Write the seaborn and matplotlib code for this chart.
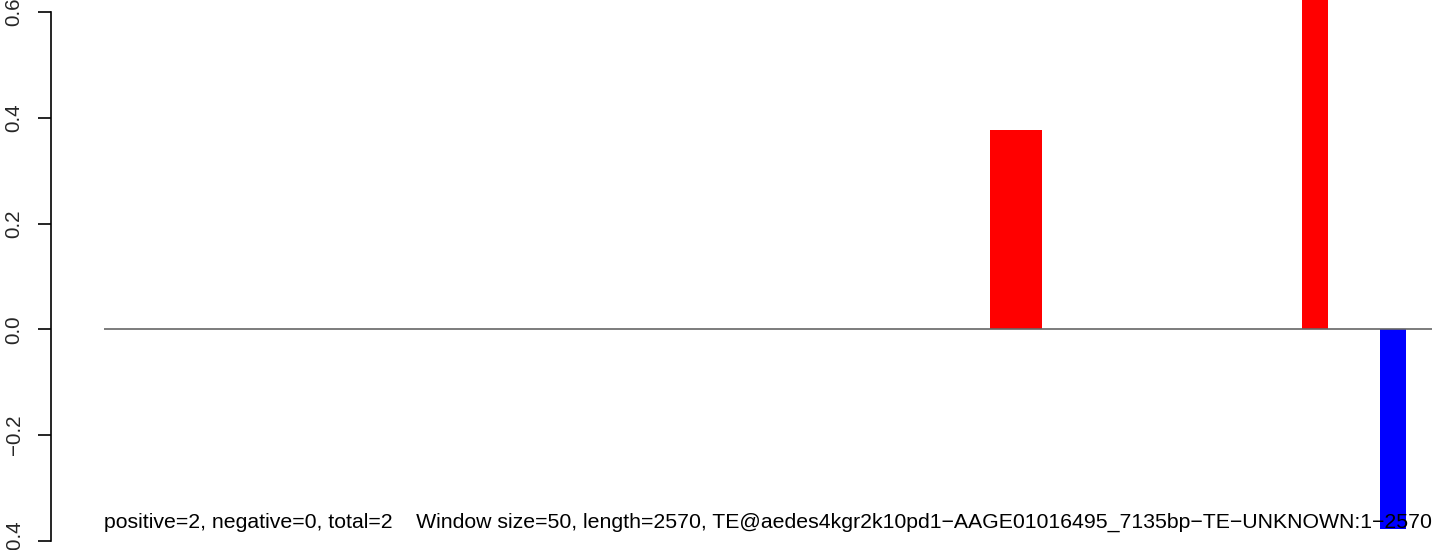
import numpy as np
import pandas as pd
import matplotlib
matplotlib.use("Agg")
import matplotlib.pyplot as plt
import seaborn as sns

# window centers (bp) and scores, window size 50, sequence length 2570
seq_length = 2570
window_centers = [1740, 1790, 2343, 2495]
window_scores = [0.377, 0.377, 0.75, -0.377]
window_strand = ["pos", "pos", "pos", "neg"]
y_ticks = [-0.4, -0.2, 0.0, 0.2, 0.4, 0.6]
caption = ("positive=2, negative=0, total=2    Window size=50, length=2570, "
           "TE@aedes4kgr2k10pd1\u2212AAGE01016495_7135bp\u2212TE\u2212UNKNOWN:1\u22122570")

sns.set_style("white")
plt.rcParams["font.family"] = ["Liberation Sans", "DejaVu Sans"]

df = pd.DataFrame({"pos": window_centers, "score": window_scores, "strand": window_strand})

fig = plt.figure(figsize=(14.44, 5.5), dpi=100)
ax = fig.add_axes([0.0351, 0.0, 0.9649, 1.0])

sns.barplot(data=df, x="pos", y="score", hue="strand",
            palette={"pos": "#ff0000", "neg": "#0000ff"},
            native_scale=True, width=1.0, dodge=False, legend=False,
            linewidth=0, saturation=1, ax=ax)

ax.hlines(0, 0, seq_length, color="#666666", lw=1.2, zorder=3)

ax.set_xlim(-103, 2593)
ax.set_ylim(-0.417, 0.6227)
ax.set_xlabel("")
ax.set_ylabel("")
ax.set_xticks([])
ax.set_yticks(y_ticks)
ax.set_yticklabels([f"{t:.1f}".replace("-", "\u2212") for t in y_ticks],
                   rotation=90, va="center", fontsize=14.8)
ax.tick_params(axis="y", length=9.5, width=1.2, pad=10, color="black", left=True)

for s in ["top", "right", "bottom"]:
    ax.spines[s].set_visible(False)
ax.spines["left"].set_bounds(-0.4, 0.6)
ax.spines["left"].set_linewidth(1.2)
ax.spines["left"].set_color("black")

ax.text(0, -0.364, caption, ha="left", va="center",
        fontsize=15.3, color="black", zorder=4)

fig.savefig("out.png", dpi=100)
